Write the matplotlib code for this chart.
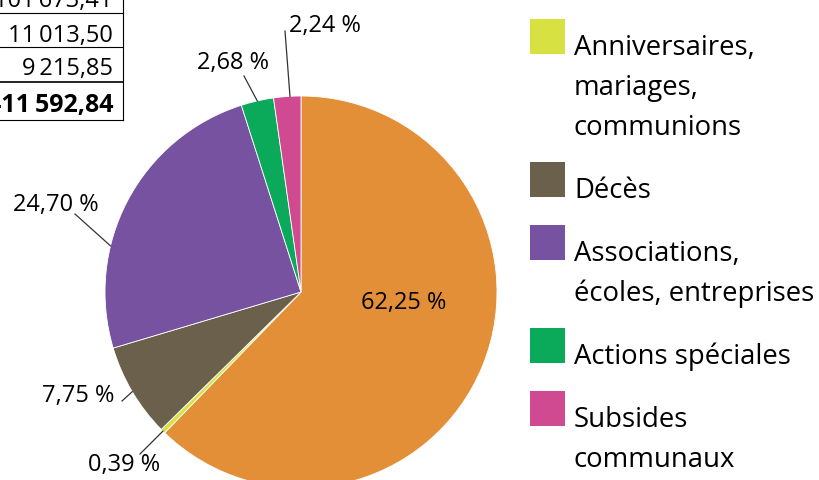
import matplotlib
matplotlib.use("Agg")
import matplotlib.pyplot as plt
from matplotlib.patches import Rectangle
import numpy as np

plt.rcParams['font.family'] = ['Open Sans', 'DejaVu Sans']

# parts of the budget (%), clockwise from the top
shares = [62.25, 0.39, 7.75, 24.70, 2.68, 2.24]
colors = ['#E38F38', '#D7E141', '#6B604C', '#7652A0', '#0AAA5A', '#CF4A91']

# legend (first slice has its entry above the visible area)
legend_labels = ["Anniversaires,\nmariages,\ncommunions", "Décès",
                 "Associations,\nécoles, entreprises", "Actions spéciales",
                 "Subsides\ncommunaux"]

# bottom of the amounts table (euros)
table_values = [101673.41, 11013.50, 9215.85]
table_total = 411592.84

W, H = 820, 481


def fr_num(v):
    s = f"{v:,.2f}"
    return s.replace(",", "\u2009").replace(".", ",")


def fr_pct(v):
    return f"{v:.2f}".replace(".", ",") + " %"


fig = plt.figure(figsize=(W / 100, H / 100), dpi=100)
ax = fig.add_axes([0, 0, 1, 1])

cx, cy, r = 301, H - 293, 196
wedges, _ = ax.pie(shares, colors=colors, startangle=90, counterclock=False,
                   center=(cx, cy), radius=r,
                   wedgeprops=dict(edgecolor='white', linewidth=0.6))
ax.set_xlim(0, W)
ax.set_ylim(0, H)
ax.set_aspect('equal')
ax.axis('off')

# percentage labels: text centre (px), leader end (px), anchor fraction in wedge
lab_pos = [(404, 303), (124, 465), (78, 396), (56, 205), (233, 63), (325, 26)]
lead_end = [None, (140, 455), (122, 402), (75, 215), (244, 77), (285, 32)]
anchor_frac = [None, 0.5, 0.5, 0.66, 0.5, 0.4]
fs_pct = 17

for i, v in enumerate(shares):
    tx, ty = lab_pos[i]
    ax.text(tx, H - ty, fr_pct(v), ha='center', va='center', fontsize=fs_pct,
            color='black')
    if lead_end[i] is not None:
        w = wedges[i]
        ang = np.deg2rad(w.theta1 + anchor_frac[i] * (w.theta2 - w.theta1))
        ax_, ay_ = cx + r * np.cos(ang), cy + r * np.sin(ang)
        ex, ey = lead_end[i]
        ax.plot([ax_, ex], [ay_, H - ey], color='#333333', lw=0.9)

# legend: square bottom sits on the first baseline, lines 40 px apart
sq_tops = [20, 163, 226, 329, 392]
for lab, col, top in zip(legend_labels, colors[1:], sq_tops):
    ax.add_patch(Rectangle((530, H - top - 35), 35, 35, color=col, lw=0))
    for k, line in enumerate(lab.split("\n")):
        ax.text(574, H - (top + 35 + 40 * k), line, ha='left', va='baseline',
                fontsize=19.8, color='black')

# table fragment
ax.plot([123, 123], [H, H - 121], color='black', lw=0.8)
for yl, lw in zip([14, 48, 83, 121], [0.8, 0.8, 1.2, 0.8]):
    ax.plot([0, 123], [H - yl, H - yl], color='black', lw=lw)
row_base = [7, 42, 75]
for v, yb in zip(table_values, row_base):
    ax.text(113, H - yb, fr_num(v), ha='right', va='baseline', fontsize=17)
ax.text(114, H - 112, fr_num(table_total), ha='right', va='baseline',
        fontsize=18, fontweight='bold')

fig.savefig('out.png', dpi=100)
